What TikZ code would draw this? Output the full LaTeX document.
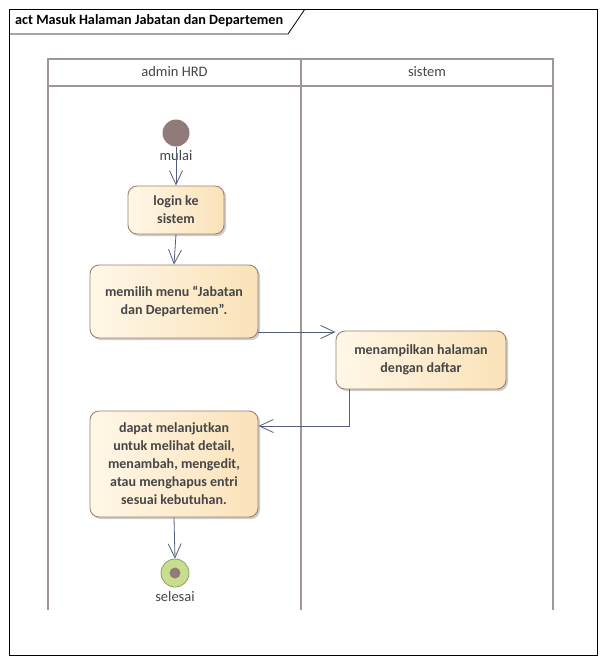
\documentclass[tikz,border=0pt]{standalone}
\usepackage{fontspec}
\setmainfont{Carlito}
\usetikzlibrary{arrows.meta,shadows}
\definecolor{lanecol}{RGB}{160,150,150}
\definecolor{flowcol}{RGB}{85,95,125}
\definecolor{actborder}{RGB}{160,130,110}
\definecolor{actlight}{RGB}{255,247,232}
\definecolor{actdark}{RGB}{250,226,184}
\definecolor{startcol}{RGB}{145,122,122}
\definecolor{endgreen}{RGB}{200,222,140}
\definecolor{endborder}{RGB}{140,160,100}
\definecolor{txtcol}{RGB}{70,70,70}
\tikzset{
  x=1pt, y=-1pt,
  actbox/.style={draw=actborder, line width=0.9pt, rounded corners=9pt,
    left color=actlight, right color=actdark, font=\fontsize{14}{18}\selectfont\bfseries,
    text=txtcol, align=center, inner sep=0pt,
    drop shadow={shadow xshift=2pt, shadow yshift=-2pt, fill=black, opacity=0.2}},
  flow/.style={draw=flowcol, line width=0.8pt, -{Straight Barb[length=14pt,width=13pt,line width=0.8pt]}},
  lane/.style={draw=lanecol, line width=1.6pt},
  lbl/.style={font=\fontsize{14.5}{16}\selectfont, text=txtcol, inner sep=0pt}
}
\begin{document}
\begin{tikzpicture}
\useasboundingbox (0,0) rectangle (603,661);
\fill[white] (0,0) rectangle (603,661);
% frame
\draw[black, line width=0.8pt] (9,9) rectangle (597,655);
\draw[black, line width=0.8pt] (9,34) -- (288,34) -- (305,9);
\node[anchor=west, font=\fontsize{14.2}{16}\selectfont\bfseries, inner sep=0pt] (title) at (15,21) {act Masuk Halaman Jabatan dan Departemen};
% swimlanes
\draw[lane] (48,610) -- (48,59) -- (553,59) -- (553,610);
\draw[lane] (301,59) -- (301,610);
\draw[lane] (48,86) -- (553,86);
\node[lbl] (lane1) at (174.5,72) {admin HRD};
\node[lbl] (lane2) at (427,72) {sistem};
% start
\node[circle, fill=startcol, minimum size=27pt, inner sep=0pt] (start) at (176,133) {};
\node[lbl] (startlbl) at (176,156) {mulai};
% activities
\node[actbox, minimum width=96pt, minimum height=48pt] (login) at (176,210) {login ke\\sistem};
\node[actbox, minimum width=168pt, minimum height=73pt] (memilih) at (174,301.5) {memilih menu “Jabatan\\dan Departemen”.};
\node[actbox, minimum width=170pt, minimum height=58pt] (tampil) at (421,360) {menampilkan halaman\\dengan daftar};
\node[actbox, minimum width=168pt, minimum height=106pt] (dapat) at (174,464) {dapat melanjutkan\\untuk melihat detail,\\menambah, mengedit,\\atau menghapus entri\\sesuai kebutuhan.};
% end
\node[circle, draw=endborder, line width=0.8pt, fill=endgreen, minimum size=28pt, inner sep=0pt] (end) at (175,573) {};
\node[circle, fill=startcol, minimum size=11pt, inner sep=0pt] (endin) at (175,573) {};
\node[lbl] (endlbl) at (175,597) {selesai};
% flows
\draw[flow] (start.south) -- (login.north);
\draw[flow] (login.south) -- (memilih.north);
\coordinate (m1) at (memilih.east |- 0,332);
\coordinate (t1) at (tampil.west |- 0,332);
\draw[flow] (m1) -- (t1);
\coordinate (t2) at (349,389);
\coordinate (d1) at (dapat.east |- 0,426);
\draw[flow] (t2) |- (d1);
\draw[flow] (dapat.south) -- (end.north);
\end{tikzpicture}
\end{document}
